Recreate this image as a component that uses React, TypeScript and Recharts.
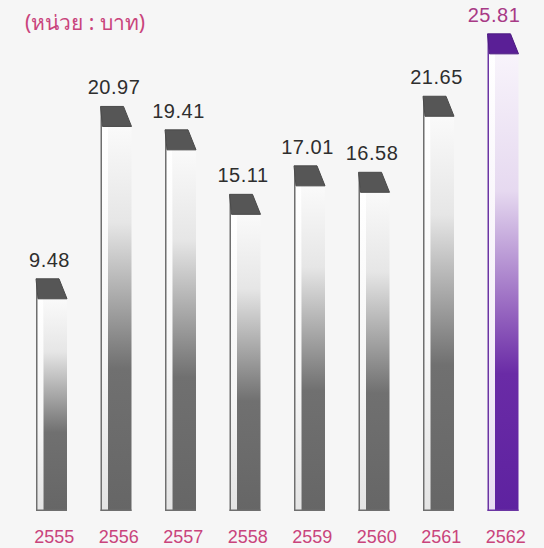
import React from 'react';
import { BarChart, Bar, XAxis, YAxis, LabelList } from 'recharts';

const years = ['2555', '2556', '2557', '2558', '2559', '2560', '2561', '2562'];
const prices = [9.48, 20.97, 19.41, 15.11, 17.01, 16.58, 21.65, 25.81];
const highlightYear = '2562';

const data = years.map((year, i) => ({ year, price: prices[i] }));

const FONT = '"Liberation Sans", Arial, sans-serif';
const PINK = '#c9447c';

const PillarShape = (props: any) => {
  const { x, y, width, height, background, payload } = props;
  const bottom = background ? background.y + background.height : y + height;
  const hi = payload.year === highlightYear;
  const capH = 20;
  const strip = 6;
  const edge = hi ? '#6b35a3' : '#6f6f6f';
  const cap = hi ? '#5a1f96' : '#565656';
  return (
    <g>
      <rect x={x + 1.5} y={y + capH} width={strip} height={bottom - y - capH}
        fill={hi ? 'url(#stripPurple)' : 'url(#stripGray)'} />
      <rect x={x + strip + 1.5} y={y + capH} width={width - strip - 1.5} height={bottom - y - capH}
        fill={hi ? 'url(#bodyPurple)' : 'url(#bodyGray)'} />
      <line x1={x + 0.75} x2={x + 0.75} y1={y + 2} y2={bottom} stroke={edge} strokeWidth={1.5} />
      <line x1={x} x2={x + width} y1={bottom - 0.75} y2={bottom - 0.75} stroke={edge} strokeWidth={1.5} />
      <polygon
        points={`${x},${y} ${x + width - 8},${y} ${x + width},${y + capH} ${x + 2},${y + capH}`}
        fill={cap} stroke={hi ? '#4c1a80' : '#4a4a4a'} strokeWidth={1} />
    </g>
  );
};

const ValueLabel = (props: any) => {
  const { x, y, width, value, index } = props;
  const hi = years[index] === highlightYear;
  const cx = Math.min(x + width / 2 - 2, 494);
  return (
    <text x={cx} y={y - 12} textAnchor="middle" fontSize={20} fontFamily={FONT}
      letterSpacing={0.5} fill={hi ? '#a83a86' : '#2e2e2e'}>
      {Number(value).toFixed(2)}
    </text>
  );
};

const YearTick = (props: any) => {
  const { x, y, payload } = props;
  return (
    <text x={x + 3} y={y + 24} textAnchor="middle" fontSize={18} fontFamily={FONT} fill={PINK}>
      {payload.value}
    </text>
  );
};

export default function App() {
  return (
    <div style={{ position: 'absolute', left: 0, top: 0, width: 544, height: 548, background: '#f6f6f6' }}>
      <BarChart width={544} height={548} data={data} margin={{ top: 1, right: 9, bottom: 0, left: 19 }}>
        <defs>
          <linearGradient id="bodyGray" x1="0" y1="0" x2="0" y2="1">
            <stop offset="0" stopColor="#fafafa" />
            <stop offset="0.25" stopColor="#e6e6e6" />
            <stop offset="0.5" stopColor="#999999" />
            <stop offset="0.63" stopColor="#707070" />
            <stop offset="1" stopColor="#666666" />
          </linearGradient>
          <linearGradient id="stripGray" x1="0" y1="0" x2="0" y2="1">
            <stop offset="0" stopColor="#ffffff" />
            <stop offset="0.6" stopColor="#f6f6f6" />
            <stop offset="1" stopColor="#e4e4e4" />
          </linearGradient>
          <linearGradient id="bodyPurple" x1="0" y1="0" x2="0" y2="1">
            <stop offset="0" stopColor="#f8f4fb" />
            <stop offset="0.3" stopColor="#e6d9f0" />
            <stop offset="0.55" stopColor="#9a6bc2" />
            <stop offset="0.7" stopColor="#6a2ba6" />
            <stop offset="1" stopColor="#5e22a0" />
          </linearGradient>
          <linearGradient id="stripPurple" x1="0" y1="0" x2="0" y2="1">
            <stop offset="0" stopColor="#ffffff" />
            <stop offset="0.6" stopColor="#f5f0f9" />
            <stop offset="1" stopColor="#e8dcf2" />
          </linearGradient>
        </defs>
        <text x={25} y={30} fontSize={21} fontFamily='"Noto Sans", sans-serif' fill={PINK}>
          (หน่วย : บาท)
        </text>
        <XAxis dataKey="year" axisLine={false} tickLine={false} height={37} interval={0} tick={<YearTick />} />
        <YAxis hide domain={[-6, 28]} />
        <Bar dataKey="price" barSize={31} shape={<PillarShape />} isAnimationActive={false}>
          <LabelList dataKey="price" content={<ValueLabel />} />
        </Bar>
      </BarChart>
    </div>
  );
}
